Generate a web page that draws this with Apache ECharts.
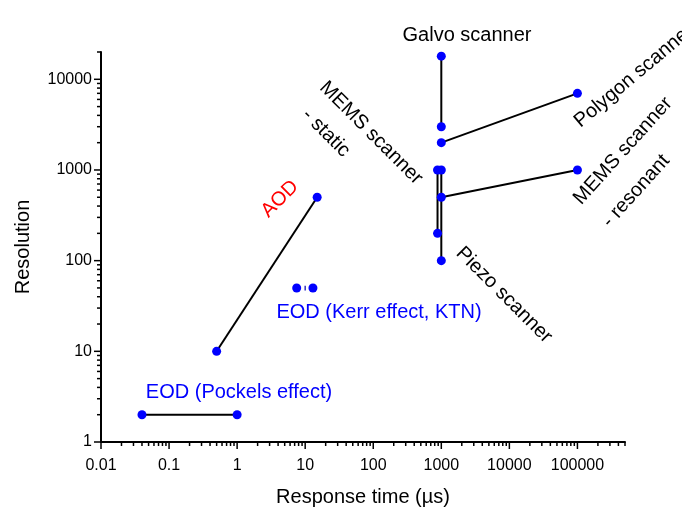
<!DOCTYPE html>
<html>
<head>
<meta charset="utf-8">
<script src="https://cdn.jsdelivr.net/npm/echarts@6/dist/echarts.min.js"></script>
<style>html,body{margin:0;padding:0;background:#fff}#c{width:682px;height:513px}</style>
</head>
<body>
<div id="c"></div>
<script>
// ---- data (response time in µs, resolution) ----
const galvo      = [[1000, 18000], [1000, 3000]];
const polygon    = [[1000, 2000], [100000, 7000]];
const memsRes    = [[1000, 500], [100000, 1000]];
const memsStatic = [[880, 1000], [880, 200]];
const piezo      = [[1000, 1000], [1000, 100]];
const aod        = [[0.5, 10], [15, 500]];
const eodKerr    = [[7.5, 50], [13, 50]];
const eodKerrBar = [[10, 47], [10, 53]];
const eodPockels = [[0.04, 2], [1, 2]];

const xMin = 0.01, xMax = 500000;
const yMin = 1, yMax = 20000;
const xMajor = [0.01, 0.1, 1, 10, 100, 1000, 10000, 100000];
const yMajor = [1, 10, 100, 1000, 10000];
const minorMult = [2, 3, 4, 5, 6, 7, 8, 9];

// tick table (value positions come from the axes through api.coord)
const tickData = [];
xMajor.forEach(v => {
  tickData.push([v, yMin, 0, 1]);
  minorMult.forEach(m => { const t = v * m; if (t <= xMax * 1.0001) tickData.push([t, yMin, 0, 0]); });
});
yMajor.forEach(v => {
  tickData.push([xMin, v, 1, 1]);
  minorMult.forEach(m => { const t = v * m; if (t <= yMax * 1.0001) tickData.push([xMin, t, 1, 0]); });
});

const FONT = 'Liberation Sans, Arial, sans-serif';
const BLUE = '#0000ff';

function fmt(v) {
  const e = Math.log10(v);
  if (Math.abs(e - Math.round(e)) > 1e-6) return '';
  return String(+v.toPrecision(6));
}

function lineSeries(data, showLine) {
  return {
    type: 'line', data: data, symbol: 'circle', symbolSize: 9,
    itemStyle: { color: BLUE },
    lineStyle: { color: '#000', width: 2, opacity: showLine === false ? 0 : 1 },
    animation: false, z: 3
  };
}

const chart = echarts.init(document.getElementById('c'), null, { renderer: 'canvas' });
const deg = Math.PI / 180;
function txt(text, x, y, rot, color) {
  return {
    type: 'text', x: x, y: y, rotation: (rot || 0) * deg, z: 10,
    style: { text: text, fill: color || '#000', font: '20px ' + FONT, align: 'center', verticalAlign: 'middle' }
  };
}

chart.setOption({
  animation: false,
  grid: { left: 101, right: 57, top: 52, bottom: 71, containLabel: false },
  xAxis: {
    type: 'log', logBase: 10, min: xMin, max: xMax,
    name: 'Response time (µs)', nameLocation: 'middle', nameGap: 45,
    nameTextStyle: { fontFamily: FONT, fontSize: 20, color: '#000' },
    axisLine: { show: true, lineStyle: { color: '#000', width: 2 } },
    axisTick: { show: false },
    minorTick: { show: false },
    splitLine: { show: false },
    axisLabel: { formatter: fmt, fontFamily: FONT, fontSize: 16, color: '#000', margin: 16, hideOverlap: false }
  },
  yAxis: {
    type: 'log', logBase: 10, min: yMin, max: yMax,
    name: 'Resolution', nameLocation: 'middle', nameGap: 68,
    nameTextStyle: { fontFamily: FONT, fontSize: 20, color: '#000' },
    axisLine: { show: true, lineStyle: { color: '#000', width: 2 } },
    axisTick: { show: false },
    minorTick: { show: false },
    splitLine: { show: false },
    axisLabel: { formatter: fmt, fontFamily: FONT, fontSize: 16, color: '#000', margin: 9, hideOverlap: false }
  },
  series: [
    {
      type: 'custom', data: tickData, clip: false, silent: true, z: 1,
      renderItem: function (params, api) {
        const axis = api.value(2), major = api.value(3);
        const p = api.coord([api.value(0), api.value(1)]);
        const len = major ? 7 : 4;
        const shape = axis === 0
          ? { x1: p[0], y1: p[1], x2: p[0], y2: p[1] + len }
          : { x1: p[0] - len, y1: p[1], x2: p[0], y2: p[1] };
        return { type: 'line', shape: shape, style: { stroke: '#000', lineWidth: 1.5 } };
      }
    },
    lineSeries(galvo),
    lineSeries(polygon),
    lineSeries(memsRes),
    lineSeries(memsStatic),
    lineSeries(piezo),
    lineSeries(aod),
    lineSeries(eodKerr, false),
    { type: 'line', data: eodKerrBar, symbol: 'none', lineStyle: { color: '#3030c0', width: 1.5 }, z: 2 },
    lineSeries(eodPockels)
  ],
  graphic: [
    txt('Galvo scanner', 467, 35, 0),
    txt('Polygon scanner', 634, 76, 40),
    txt('MEMS scanner', 623, 151, 48),
    txt('- resonant', 636, 191, 48),
    txt('MEMS scanner', 371, 133, -45),
    txt('- static', 326, 133, -45),
    txt('AOD', 280, 199, 45, '#ff0000'),
    txt('Piezo scanner', 504, 295, -45),
    txt('EOD (Kerr effect, KTN)', 379, 312, 0, BLUE),
    txt('EOD (Pockels effect)', 239, 392, 0, BLUE)
  ]
});
</script>
</body>
</html>
